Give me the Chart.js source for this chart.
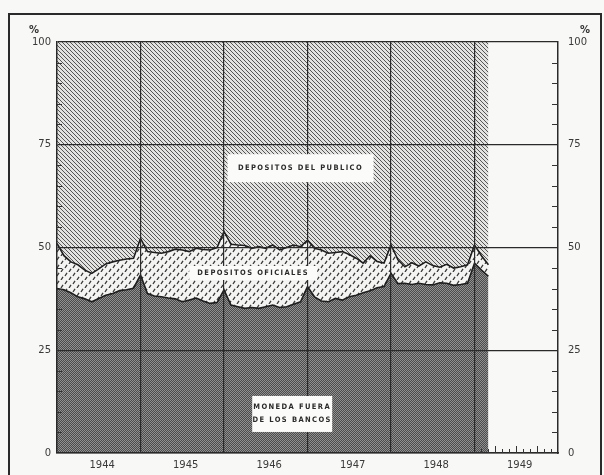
<!DOCTYPE html>
<html lang="es">
<head>
    <meta charset="UTF-8">
    <title>Moneda y depositos 1944-1949</title>
    <script src="https://cdn.jsdelivr.net/npm/chart.js"></script>
    <style>
        body {
            margin: 0;
            background: #f8f8f6;
        }
        .wrap {
            position: relative;
            width: 604px;
            height: 475px;
        }
        .frame {
            position: absolute;
            left: 8px;
            top: 13px;
            width: 590px;
            height: 470px;
            border: 2px solid #2a2a2a;
            border-bottom: none;
            pointer-events: none;
        }
    </style>
</head>
<body>
    <div class="wrap">
        <canvas id="chart"></canvas>
        <div class="frame"></div>
    </div>

    <script>
        // months counted from January 1944
        const years = ['1944', '1945', '1946', '1947', '1948', '1949'];
        const yearTicks = [6.5, 18.5, 30.5, 42.5, 54.5, 66.5];
        const yearLines = [12, 24, 36, 48, 60];

        // percent shares, monthly
        const moneda = [40.0, 39.7, 39.0, 38.0, 37.5, 36.8, 37.6, 38.4, 38.8, 39.5, 39.7, 40.1,
            43.3, 38.8, 38.2, 38.0, 37.7, 37.5, 36.8, 37.2, 37.7, 37.0, 36.4, 36.6,
            39.7, 36.0, 35.6, 35.2, 35.4, 35.2, 35.6, 36.0, 35.4, 35.6, 36.2, 36.8,
            40.5, 38.0, 37.0, 36.8, 37.6, 37.2, 38.0, 38.4, 39.0, 39.5, 40.2, 40.5,
            43.7, 41.2, 41.3, 41.0, 41.3, 41.0, 40.9, 41.4, 41.3, 40.8, 41.0, 41.3,
            46.2, 44.5, 43.0];
        const oficiales = [11.0, 8.3, 7.5, 7.8, 7.0, 6.9, 7.2, 7.6, 7.7, 7.4, 7.5, 7.3,
            8.9, 10.2, 10.6, 10.6, 11.3, 12.1, 12.6, 11.8, 12.1, 12.5, 13.0, 13.4,
            14.2, 14.8, 15.0, 15.3, 14.4, 15.0, 14.2, 14.6, 14.0, 14.4, 14.4, 13.4,
            11.3, 11.8, 12.4, 11.8, 11.2, 11.8, 10.3, 9.0, 7.2, 8.5, 6.4, 5.7,
            6.9, 5.8, 4.0, 5.3, 4.2, 5.5, 4.7, 3.8, 4.6, 4.2, 4.3, 4.5,
            4.4, 3.5, 2.8];
        const publico = [49.0, 52.0, 53.5, 54.2, 55.5, 56.3, 55.2, 54.0, 53.5, 53.1, 52.8, 52.6,
            47.8, 51.0, 51.2, 51.4, 51.0, 50.4, 50.6, 51.0, 50.2, 50.5, 50.6, 50.0,
            46.1, 49.2, 49.4, 49.5, 50.2, 49.8, 50.2, 49.4, 50.6, 50.0, 49.4, 49.8,
            48.2, 50.2, 50.6, 51.4, 51.2, 51.0, 51.7, 52.6, 53.8, 52.0, 53.4, 53.8,
            49.4, 53.0, 54.7, 53.7, 54.5, 53.5, 54.4, 54.8, 54.1, 55.0, 54.7, 54.2,
            49.4, 52.0, 54.2];

        const canvas = document.getElementById('chart');
        const ctx = canvas.getContext('2d');

        const makePattern = (w, h, draw) => {
            const c = document.createElement('canvas');
            c.width = w;
            c.height = h;
            draw(c.getContext('2d'));
            return ctx.createPattern(c, 'repeat');
        };

        const hatch = makePattern(4, 4, p => {
            p.fillStyle = '#e2e2e0';
            p.fillRect(0, 0, 4, 4);
            p.strokeStyle = '#555';
            p.lineWidth = 1;
            p.beginPath();
            p.moveTo(-1, -1); p.lineTo(5, 5);
            p.moveTo(-1, 3); p.lineTo(1, 5);
            p.moveTo(3, -1); p.lineTo(5, 1);
            p.stroke();
        });

        const dashes = makePattern(8, 8, p => {
            p.fillStyle = '#f4f4f2';
            p.fillRect(0, 0, 8, 8);
            p.strokeStyle = '#3a3a3a';
            p.lineWidth = 1.3;
            p.beginPath();
            p.moveTo(1, 4); p.lineTo(3, 0.8);
            p.moveTo(5, 8); p.lineTo(7, 4.8);
            p.stroke();
        });

        const dots = makePattern(2, 2, p => {
            p.fillStyle = '#4c4c4c';
            p.fillRect(0, 0, 2, 2);
            p.fillStyle = '#909090';
            p.fillRect(0, 0, 1, 1);
            p.fillRect(1, 1, 1, 1);
        });

        const toPoints = arr => arr.map((v, i) => ({ x: i, y: v }));

        const labelBoxes = [
            { lines: ['DEPOSITOS DEL PUBLICO'], x: 35, y: 69.3, w: 146, h: 28 },
            { lines: ['DEPOSITOS OFICIALES'], x: 28.2, y: 43.8, w: 128, h: 14 },
            { lines: ['MONEDA FUERA', 'DE LOS BANCOS'], x: 33.8, y: 9.5, w: 80, h: 36 }
        ];

        const decorPlugin = {
            id: 'decor',
            afterDraw(chart) {
                const c = chart.ctx;
                const xs = chart.scales.x;
                const ys = chart.scales.y;
                const area = chart.chartArea;
                c.save();
                c.strokeStyle = '#333';
                c.lineWidth = 1;
                // minor ticks at every 5 %
                for (let v = 5; v < 100; v += 5) {
                    if (v % 25 === 0) continue;
                    const py = Math.round(ys.getPixelForValue(v)) + 0.5;
                    c.beginPath();
                    c.moveTo(area.left, py); c.lineTo(area.left + 5, py);
                    c.moveTo(area.right, py); c.lineTo(area.right - 6, py);
                    c.stroke();
                }
                // month ticks on the bottom axis
                for (let m = 61; m < 72; m++) {
                    const px = Math.round(xs.getPixelForValue(m)) + 0.5;
                    const len = m % 3 === 0 ? 7 : 4;
                    c.beginPath();
                    c.moveTo(px, area.bottom); c.lineTo(px, area.bottom - len);
                    c.stroke();
                }
                // percent signs
                c.fillStyle = '#333';
                c.font = 'bold 10px "DejaVu Sans"';
                c.textAlign = 'center';
                c.textBaseline = 'middle';
                c.fillText('%', 34, 30);
                c.fillText('%', 585, 30);

                // series labels
                c.font = 'bold 7.5px "DejaVu Sans Condensed", "DejaVu Sans"';
                if ('letterSpacing' in c) c.letterSpacing = '1.4px';
                labelBoxes.forEach(b => {
                    const cx = xs.getPixelForValue(b.x);
                    const cy = ys.getPixelForValue(b.y);
                    c.fillStyle = '#fbfbf9';
                    c.fillRect(cx - b.w / 2, cy - b.h / 2, b.w, b.h);
                    c.fillStyle = '#2a2a2a';
                    const gap = 13;
                    b.lines.forEach((t, i) => {
                        c.fillText(t, cx, cy + (i - (b.lines.length - 1) / 2) * gap);
                    });
                });
                c.restore();
            }
        };

        const gridOnTop = { color: '#2a2a2a', lineWidth: 1.2, drawTicks: false, z: 1 };

        new Chart(ctx, {
            type: 'line',
            data: {
                datasets: [
                    {
                        label: 'Moneda fuera de los bancos',
                        data: toPoints(moneda),
                        backgroundColor: dots,
                        borderColor: '#1e1e1e',
                        borderWidth: 1.6,
                        fill: 'origin'
                    },
                    {
                        label: 'Depositos oficiales',
                        data: toPoints(oficiales),
                        backgroundColor: dashes,
                        borderColor: '#1e1e1e',
                        borderWidth: 1.6,
                        fill: '-1'
                    },
                    {
                        label: 'Depositos del publico',
                        data: toPoints(publico),
                        backgroundColor: hatch,
                        borderWidth: 0,
                        fill: '-1'
                    }
                ]
            },
            options: {
                responsive: true,
                maintainAspectRatio: false,
                animation: false,
                elements: {
                    point: { radius: 0 },
                    line: { tension: 0 }
                },
                layout: {
                    padding: { top: 42, left: 0, right: 0, bottom: 0 }
                },
                plugins: {
                    legend: { display: false },
                    tooltip: { enabled: false }
                },
                scales: {
                    x: {
                        type: 'linear',
                        min: 0,
                        max: 72,
                        afterBuildTicks: s => { s.ticks = yearTicks.map(v => ({ value: v })); },
                        afterFit: s => { s.height = 22; },
                        grid: { display: false, drawTicks: false },
                        border: { display: true, color: '#2a2a2a', width: 1.5, z: 1 },
                        ticks: {
                            autoSkip: false,
                            maxRotation: 0,
                            padding: 6,
                            color: '#3a3a3a',
                            font: { family: 'DejaVu Sans', size: 10 },
                            callback: (v, i) => years[i]
                        }
                    },
                    xg: {
                        type: 'linear',
                        position: 'bottom',
                        min: 0,
                        max: 72,
                        afterBuildTicks: s => { s.ticks = yearLines.map(v => ({ value: v })); },
                        afterFit: s => { s.height = 0; },
                        grid: gridOnTop,
                        border: { display: false },
                        ticks: { display: false }
                    },
                    y: {
                        stacked: true,
                        min: 0,
                        max: 100,
                        afterFit: s => { s.width = 57; },
                        grid: gridOnTop,
                        border: { display: true, color: '#2a2a2a', width: 1.5, z: 1 },
                        ticks: {
                            stepSize: 25,
                            padding: 6,
                            color: '#3a3a3a',
                            font: { family: 'DejaVu Sans', size: 10 }
                        }
                    },
                    y2: {
                        position: 'right',
                        min: 0,
                        max: 100,
                        afterFit: s => { s.width = 46; },
                        grid: { display: false, drawTicks: false },
                        border: { display: true, color: '#2a2a2a', width: 1.5, z: 1 },
                        ticks: {
                            stepSize: 25,
                            padding: 10,
                            color: '#3a3a3a',
                            font: { family: 'DejaVu Sans', size: 10 }
                        }
                    }
                }
            },
            plugins: [decorPlugin]
        });
    </script>
</body>
</html>
